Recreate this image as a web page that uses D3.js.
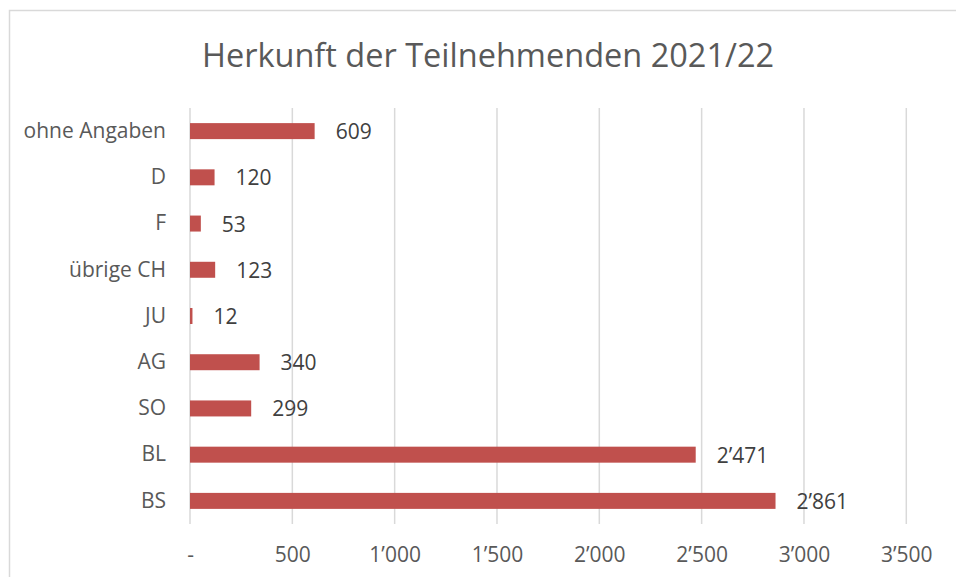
<!DOCTYPE html>
<html>
<head>
<meta charset="utf-8">
<script src="https://cdn.jsdelivr.net/npm/d3@7"></script>
<style>
    body { margin: 0; background: #fff; }
    text { font-family: "Open Sans", sans-serif; }
</style>
</head>
<body>
<div id="chart"></div>
<script>
// data, top to bottom
let categories = ["ohne Angaben", "D", "F", "übrige CH", "JU", "AG", "SO", "BL", "BS"];
let values = [609, 120, 53, 123, 12, 340, 299, 2471, 2861];
let tickValues = [0, 500, 1000, 1500, 2000, 2500, 3000, 3500];
let title = "Herkunft der Teilnehmenden 2021/22";

let width = 956, height = 577;

let svg = d3.select("#chart").append("svg")
    .attr("width", width)
    .attr("height", height);

// outer chart border
svg.append("rect")
    .attr("x", 9.5).attr("y", 10.5)
    .attr("width", 960).attr("height", 620)
    .attr("fill", "none")
    .attr("stroke", "#d9d9d9")
    .attr("stroke-width", 1.5);

// title
svg.append("text")
    .attr("x", 488).attr("y", 67)
    .attr("text-anchor", "middle")
    .attr("font-size", 32.5)
    .attr("fill", "#595959")
    .text(title);

let plot = {left: 190, right: 906.3, top: 108, bottom: 524};

let x = d3.scaleLinear()
    .domain([0, 3500])
    .range([plot.left, plot.right]);

let y = d3.scaleBand()
    .domain(categories)
    .range([plot.top, plot.bottom])
    .paddingInner(0.654)
    .paddingOuter(0.327);

// swiss thousands separator, "-" for zero
let fmt = v => v === 0 ? "-" : d3.format(",")(v).replace(/,/g, "\u2019");

// gridlines
svg.append("g")
    .selectAll("line")
    .data(tickValues)
    .enter()
    .append("line")
    .attr("x1", d => x(d)).attr("x2", d => x(d))
    .attr("y1", plot.top).attr("y2", plot.bottom)
    .attr("stroke", "#d9d9d9")
    .attr("stroke-width", 1.5);

// x axis labels
let xAxis = d3.axisBottom(x)
    .tickValues(tickValues)
    .tickFormat(fmt)
    .tickSize(0)
    .tickPadding(23);

let xg = svg.append("g")
    .attr("transform", "translate(0," + plot.bottom + ")")
    .call(xAxis);
xg.select(".domain").remove();
xg.selectAll("text")
    .attr("font-family", "Open Sans, sans-serif")
    .attr("font-size", 21)
    .attr("fill", "#595959");

// y axis labels
let yAxis = d3.axisLeft(y)
    .tickSize(0)
    .tickPadding(24);

let yg = svg.append("g")
    .attr("transform", "translate(" + plot.left + ",0)")
    .call(yAxis);
yg.select(".domain").remove();
yg.selectAll("text")
    .attr("font-family", "Open Sans, sans-serif")
    .attr("font-size", 21)
    .attr("fill", "#595959");

// bars
let data = categories.map((c, i) => ({cat: c, value: values[i]}));

svg.append("g")
    .selectAll("rect")
    .data(data)
    .enter()
    .append("rect")
    .attr("x", x(0))
    .attr("y", d => y(d.cat))
    .attr("width", d => x(d.value) - x(0))
    .attr("height", y.bandwidth())
    .attr("fill", "#c0504d");

// data labels
svg.append("g")
    .selectAll("text")
    .data(data)
    .enter()
    .append("text")
    .attr("x", d => x(d.value) + 21)
    .attr("y", d => y(d.cat) + y.bandwidth() / 2)
    .attr("dy", "0.38em")
    .attr("font-size", 21)
    .attr("fill", "#404040")
    .text(d => fmt(d.value));
</script>
</body>
</html>
